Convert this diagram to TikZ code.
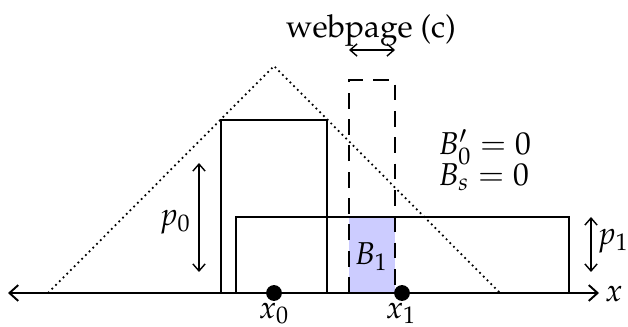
\documentclass[tikz,border=0pt]{standalone}
\usepackage[T1]{fontenc}
\usepackage{mathpazo}
\usetikzlibrary{arrows.meta}
\tikzset{
  lw/.style={line width=1.1pt},
  axisline/.style={lw,{Straight Barb[length=5pt,width=9pt]}-{Straight Barb[length=5pt,width=9pt]}},
  dbl/.style={line width=0.8pt,{Straight Barb[length=4pt,width=7pt]}-{Straight Barb[length=4pt,width=7pt]}},
  lbl/.style={font=\fontsize{18}{21}\selectfont, inner sep=0pt},
  pt/.style={circle,fill=black,inner sep=0pt,minimum size=9pt}
}
\begin{document}
\begin{tikzpicture}[x=0.02cm,y=-0.02cm]
\useasboundingbox (0,0) rectangle (628,327);
% shaded
\fill[blue!20] (349,217) rectangle (395,293);
% dotted triangle
\coordinate (tl) at (48,293);
\coordinate (ta) at (274,66);
\coordinate (tr) at (500,293);
\draw[line width=1pt,dotted] (tl) -- (ta) -- (tr);
% rectangles
\draw[lw] (221,293) -- (221,120) -- (327,120) -- (327,293);
\draw[lw] (236,293) -- (236,217) -- (569,217) -- (569,293);
\draw[lw,dashed,dash pattern=on 9pt off 6pt] (349,293) -- (349,80) -- (395,80) -- (395,293);
% axis
\coordinate (al) at (8,293);
\coordinate (ar) at (599,293);
\draw[axisline] (al) -- (ar);
\node[lbl,anchor=base] (xl) at (614,301) {$x$};
% points
\node[pt] (x0) at (274,293) {};
\node[pt] (x1) at (402,293) {};
\node[lbl,anchor=base] (x0l) at (274,318) {$x_0$};
\node[lbl,anchor=base] (x1l) at (401,318) {$x_1$};
% p0
\coordinate (p0t) at (199,163);
\coordinate (p0b) at (199,272);
\draw[dbl] (p0t) -- (p0b);
\node[lbl,anchor=base] (p0l) at (175,226) {$p_0$};
% p1
\coordinate (p1t) at (591,217);
\coordinate (p1b) at (591,272);
\draw[dbl] (p1t) -- (p1b);
\node[lbl,anchor=base] (p1l) at (613,245) {$p_1$};
% B1
\node[lbl,anchor=base] (b1) at (371,265) {$B_1$};
% webpage
\node[lbl,anchor=base] (wp) at (371,38) {webpage (c)};
\coordinate (wl) at (349,50);
\coordinate (wr) at (395,50);
\draw[dbl] (wl) -- (wr);
% eqs
\node[lbl,anchor=base west] (e1) at (438,155) {$B_0' = 0$};
\node[lbl,anchor=base west] (e2) at (438,186) {$B_s = 0$};
\end{tikzpicture}
\end{document}
